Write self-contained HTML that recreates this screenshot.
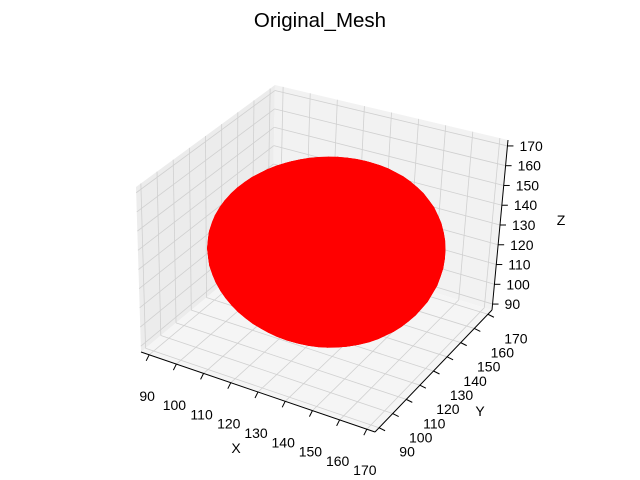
<!DOCTYPE html>
<html><head><meta charset="utf-8"><style>
body{margin:0;background:#fff}
svg{display:block;font-family:"Liberation Sans",sans-serif}
</style></head><body>
<svg id="chart" width="640" height="480" viewBox="0 0 640 480" xmlns="http://www.w3.org/2000/svg">
<rect width="640" height="480" fill="#fff"/>
<text x="320" y="27" text-anchor="middle" font-size="20.5">Original_Mesh</text>
<g id="panes"></g>
<g id="grid"></g>
<g id="axes"></g>
<g id="mesh"></g>
<text x="236" y="453" text-anchor="middle" font-size="14">X</text>
<text x="480" y="416" text-anchor="middle" font-size="14">Y</text>
<text x="561" y="225" text-anchor="middle" font-size="14">Z</text>
</svg>
<script>
const xTicks=[90,100,110,120,130,140,150,160,170];
const yTicks=[90,100,110,120,130,140,150,160,170];
const zTicks=[90,100,110,120,130,140,150,160,170];
const sphereCenter=[131.4,130.9,130];
const sphereRadius=[38.5];
const lim=[87,173];
const C={"000":[141,352],"100":[375,432],"110":[492,310],"010":[272,243],
"001":[136,187],"101":[378,257],"111":[508,140],"011":[275,85]};
function proj(x,y,z){
 const u=(x-lim[0])/(lim[1]-lim[0]),v=(y-lim[0])/(lim[1]-lim[0]),w=(z-lim[0])/(lim[1]-lim[0]);
 let px=0,py=0;
 for(const a of [0,1])for(const b of [0,1])for(const c of [0,1]){
  const wt=(a?u:1-u)*(b?v:1-v)*(c?w:1-w);const p=C[""+a+b+c];px+=wt*p[0];py+=wt*p[1];}
 return [px,py];
}
const NS="http://www.w3.org/2000/svg";
function mk(tag,attrs,parent){const e=document.createElementNS(NS,tag);for(const k in attrs)e.setAttribute(k,attrs[k]);parent.appendChild(e);return e;}
function poly(pts){return pts.map(p=>p[0].toFixed(1)+","+p[1].toFixed(1)).join(" ");}
const L=lim[0],H=lim[1];
const panes=document.getElementById('panes');
let e;
e=mk('polygon',{points:poly([proj(L,L,L),proj(L,H,L),proj(L,H,H),proj(L,L,H)]),fill:'#ececec'},panes);


e=mk('polygon',{points:poly([proj(L,H,L),proj(H,H,L),proj(H,H,H),proj(L,H,H)]),fill:'#f2f2f2'},panes);


e=mk('polygon',{points:poly([proj(L,L,L),proj(H,L,L),proj(H,H,L),proj(L,H,L)]),fill:'#f5f5f5'},panes);


const grid=document.getElementById('grid');
function line(a,b,parent,st,w,name){const l=mk('line',{x1:a[0],y1:a[1],x2:b[0],y2:b[1],stroke:st,'stroke-width':w},parent);return l;}
xTicks.forEach(v=>{line(proj(v,L,L),proj(v,H,L),grid,'#d0d0d0',0.8,'x-gridline');line(proj(v,H,L),proj(v,H,H),grid,'#d0d0d0',0.8,'x-gridline');});
yTicks.forEach(v=>{line(proj(L,v,L),proj(H,v,L),grid,'#d0d0d0',0.8,'y-gridline');line(proj(L,v,L),proj(L,v,H),grid,'#d0d0d0',0.8,'y-gridline');});
zTicks.forEach(v=>{line(proj(L,L,v),proj(L,H,v),grid,'#d0d0d0',0.8,'z-gridline');line(proj(L,H,v),proj(H,H,v),grid,'#d0d0d0',0.8,'z-gridline');});
const axes=document.getElementById('axes');
line(proj(L,L,L),proj(H,L,L),axes,'#000',1,'x-axis-line');
line(proj(H,L,L),proj(H,H,L),axes,'#000',1,'y-axis-line');
line(proj(H,H,L),proj(H,H,H),axes,'#000',1,'z-axis-line');
xTicks.forEach(v=>{const p=proj(v,L,L);line(p,[p[0]-3,p[1]+6],axes,'#000',1,'x-tick');
 const t=mk('text',{x:p[0]-2,y:p[1]+46,'text-anchor':'middle','font-size':14},axes);t.textContent=v;
 });
yTicks.forEach(v=>{const p=proj(H,v,L);line(p,[p[0]+6,p[1]+3],axes,'#000',1,'y-tick');
 const t=mk('text',{x:p[0]+28,y:p[1]+29,'text-anchor':'middle','font-size':14},axes);t.textContent=v;
 });
zTicks.forEach(v=>{const p=proj(H,H,v);line(p,[p[0]+6,p[1]],axes,'#000',1,'z-tick');
 const t=mk('text',{x:p[0]+12,y:p[1]+5,'text-anchor':'start','font-size':14},axes);t.textContent=v;
 });
const mesh=document.getElementById('mesh');
const NT=24,NP=48,cx=sphereCenter[0],cy=sphereCenter[1],cz=sphereCenter[2],r=sphereRadius[0];
function sp(i,j){const th=Math.PI*i/NT,ph=2*Math.PI*j/NP;return proj(cx+r*Math.sin(th)*Math.cos(ph),cy+r*Math.sin(th)*Math.sin(ph),cz+r*Math.cos(th));}
for(let i=0;i<NT;i++)for(let j=0;j<NP;j++){
 const q=mk('polygon',{points:poly([sp(i,j),sp(i+1,j),sp(i+1,j+1),sp(i,j+1)]),fill:'#ff0000',stroke:'#ff0000','stroke-width':0.6},mesh);
 
 
}
</script>
</body></html>
